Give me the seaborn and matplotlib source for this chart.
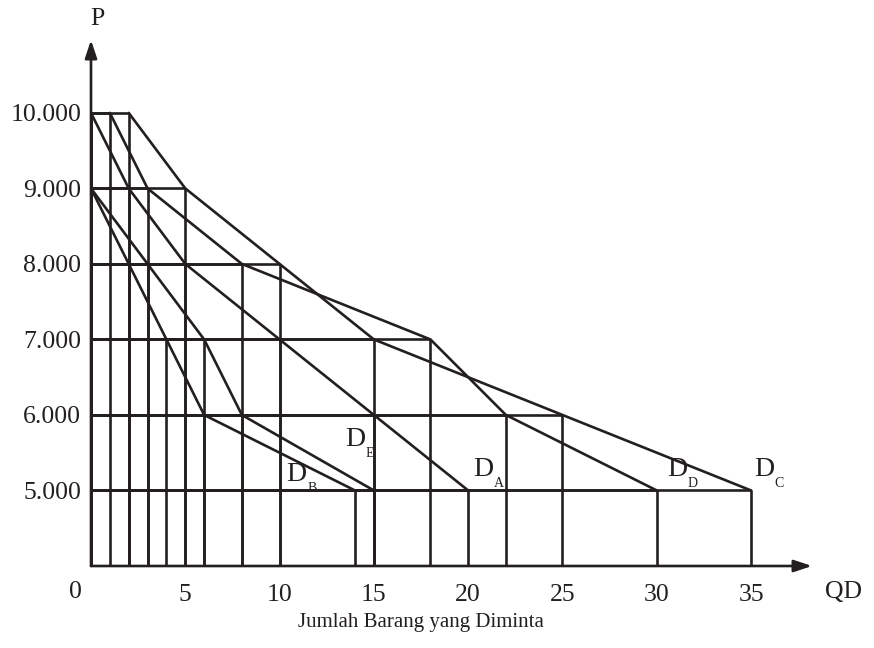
import matplotlib
matplotlib.use("Agg")
import matplotlib.pyplot as plt
import seaborn as sns
import pandas as pd

# ---- data ----
prices = [10000, 9000, 8000, 7000, 6000, 5000]
qd_A = [0, 2, 5, 10, 15, 20]
qd_B = [0, 0, 2, 4, 6, 14]
qd_C = [2, 5, 10, 15, 25, 35]
qd_D = [1, 3, 8, 18, 22, 30]
qd_E = [0, 0, 3, 6, 8, 15]
curve_names = ["A", "B", "C", "D", "E"]
x_ticks = [5, 10, 15, 20, 25, 30, 35]
y_ticks = [5000, 6000, 7000, 8000, 9000, 10000]
y_tick_labels = ["5.000", "6.000", "7.000", "8.000", "9.000", "10.000"]

series = {"A": qd_A, "B": qd_B, "C": qd_C, "D": qd_D, "E": qd_E}
rows = []
for name in curve_names:
    for q, p in zip(series[name], prices):
        rows.append({"curve": name, "Q": q, "P": p})
df = pd.DataFrame(rows)

sns.set_theme(style="white")
plt.rcParams["font.family"] = ["Liberation Serif", "DejaVu Serif"]

INK = "#231f20"
LW = 1.9
FS = 18.5

fig = plt.figure(figsize=(8.74, 6.48), dpi=100)
ax = fig.add_axes([91 / 874, (648 - 566) / 648, (812 - 91) / 874, (566 - 40) / 648])

y0 = 4000
ymax = 10000 + (113 - 40) / 75.6 * 1000
xmax = (812 - 91) / 18.86
ax.set_xlim(0, xmax)
ax.set_ylim(y0, ymax)

# drop lines to both axes for every point
for _, r in df.iterrows():
    ax.vlines(r["Q"], y0, r["P"], color=INK, lw=LW, zorder=1)
    ax.hlines(r["P"], 0, r["Q"], color=INK, lw=LW, zorder=1)

# demand curves
sns.lineplot(data=df, x="Q", y="P", units="curve", estimator=None, sort=False,
             color=INK, lw=LW, ax=ax, legend=False, zorder=2)

# axes with arrows
for s in ax.spines.values():
    s.set_visible(False)
ax.annotate("", xy=(xmax, y0), xytext=(0, y0),
            arrowprops=dict(arrowstyle="-|>,head_length=0.9,head_width=0.3",
                            color=INK, lw=LW, shrinkA=0, shrinkB=0),
            annotation_clip=False)
ax.annotate("", xy=(0, ymax), xytext=(0, y0),
            arrowprops=dict(arrowstyle="-|>,head_length=0.9,head_width=0.3",
                            color=INK, lw=LW, shrinkA=0, shrinkB=0),
            annotation_clip=False)

ax.set_xticks(x_ticks)
ax.set_xticklabels([str(v) for v in x_ticks])
ax.set_yticks(y_ticks)
ax.set_yticklabels(y_tick_labels)
ax.tick_params(axis="both", length=0, labelsize=FS, colors=INK)
ax.tick_params(axis="x", pad=13)
ax.tick_params(axis="y", pad=7)
ax.set_xlabel("")
ax.set_ylabel("")
ax.grid(False)

ax.text(-0.85, y0 - 340, "0", ha="center", va="center", fontsize=FS, color=INK)
ax.text(0.35, ymax + 280, "P", ha="center", va="center", fontsize=FS, color=INK,
        clip_on=False)
ax.text(xmax + 1.65, y0 - 340, "QD", ha="center", va="center", fontsize=FS, color=INK,
        clip_on=False)
fig.text(421 / 874, 1 - 622 / 648, "Jumlah Barang yang Diminta", ha="center",
         va="center", fontsize=15, color=INK)

labels = {
    "E": (14.0, 5680),
    "B": (10.9, 5215),
    "A": (20.8, 5280),
    "D": (31.1, 5280),
    "C": (35.7, 5280),
}
for name, (lx, ly) in labels.items():
    ax.text(lx, ly, "D", ha="center", va="center", fontsize=20, color=INK)
    ax.text(lx + 0.8, ly - 190, name, ha="center", va="center", fontsize=10, color=INK)

fig.savefig("out.png", dpi=100, facecolor="white")
